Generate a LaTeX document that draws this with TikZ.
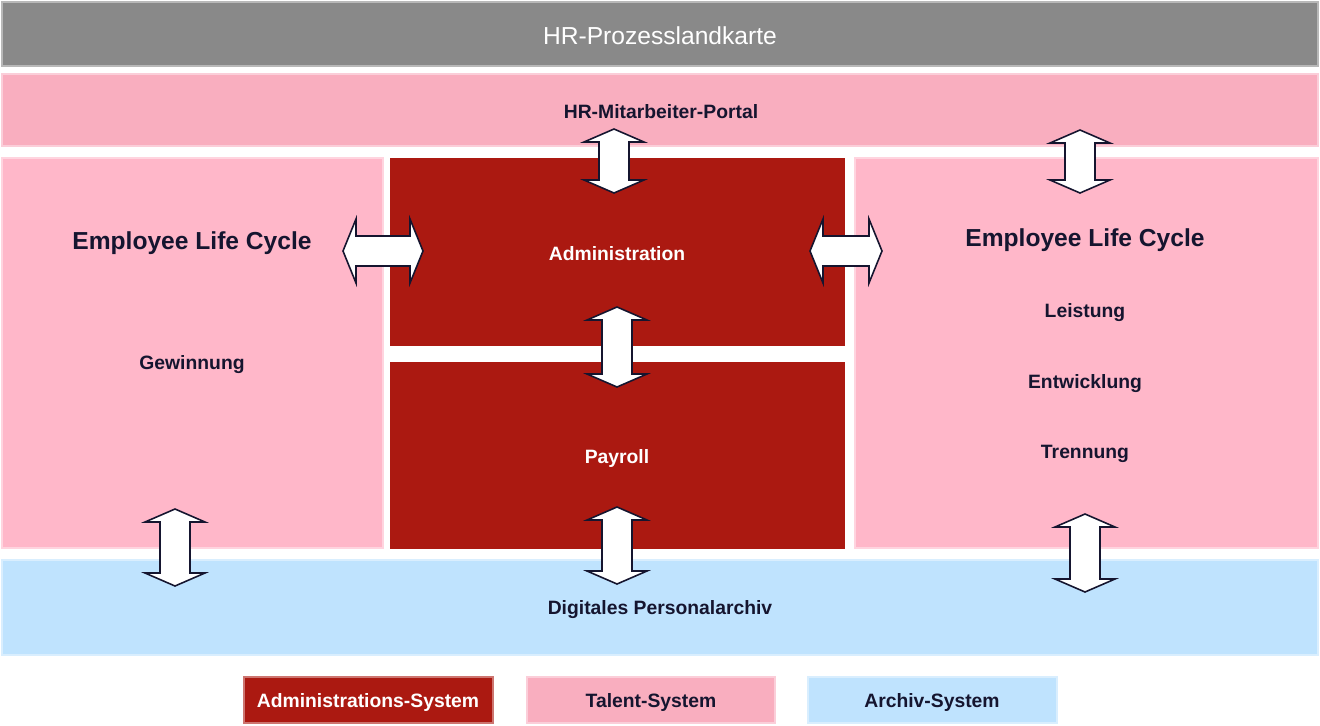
\documentclass[tikz,border=0pt]{standalone}
\usepackage{fontspec}
\setmainfont{Liberation Sans}
\usetikzlibrary{fit}
\definecolor{hrgray}{HTML}{898989}
\definecolor{portal}{HTML}{F9AEBF}
\definecolor{talent}{HTML}{FFB7C9}
\definecolor{adm}{HTML}{AB1911}
\definecolor{archiv}{HTML}{BFE3FE}
\definecolor{ink}{HTML}{15152F}
\tikzset{
  box/.style={inner sep=0pt, outer sep=0pt, line width=0.6pt},
  lbl/.style={font=\bfseries\fontsize{11}{13}\selectfont, text=ink, inner sep=0pt},
  wlbl/.style={font=\bfseries\fontsize{11}{13}\selectfont, text=white, inner sep=0pt},
  biglbl/.style={font=\bfseries\fontsize{14}{17}\selectfont, text=ink, inner sep=0pt},
  arr/.style={draw=ink, fill=white, line width=0.9pt, line join=miter},
}
\newcommand{\varr}[3]{% x, ytop, ybottom
  \draw[arr] (#1,#2) -- (#1+30,#2+13) -- (#1+15,#2+13) -- (#1+15,#3-13) -- (#1+30,#3-13)
    -- (#1,#3) -- (#1-30,#3-13) -- (#1-15,#3-13) -- (#1-15,#2+13) -- (#1-30,#2+13) -- cycle;}
\newcommand{\harr}[3]{% y, xleft, xright
  \draw[arr] (#2,#1) -- (#2+13,#1-32) -- (#2+13,#1-15) -- (#3-13,#1-15) -- (#3-13,#1-32)
    -- (#3,#1) -- (#3-13,#1+32) -- (#3-13,#1+15) -- (#2+13,#1+15) -- (#2+13,#1+32) -- cycle;}
\begin{document}
\begin{tikzpicture}[x=0.02cm, y=-0.02cm]
\useasboundingbox (0,0) rectangle (1320,725);
% boxes
\node[box, fill=hrgray, draw=hrgray!60!white, fit={(2,2)(1318,66)}] (title) {};
\node[font=\fontsize{14}{17}\selectfont, text=white] at (660,36) (titletext) {HR-Prozesslandkarte};
\node[box, fill=portal, draw=portal!60!white, fit={(2,74)(1318,146)}] (portal) {};
\node[lbl] at (661,112) (portaltext) {HR-Mitarbeiter-Portal};
\node[box, fill=talent, draw=talent!60!white, fit={(2,158)(383,548)}] (left) {};
\node[box, fill=adm, fit={(390,158)(845,346)}] (admin) {};
\node[box, fill=adm, fit={(390,362)(845,549)}] (payroll) {};
\node[box, fill=talent, draw=talent!60!white, fit={(855,158)(1318,548)}] (right) {};
\node[box, fill=archiv, draw=archiv!60!white, fit={(2,560)(1318,655)}] (archiv) {};
% texts
\node[biglbl] at (192,243) (elc1) {Employee Life Cycle};
\node[lbl] at (192,365) (gew) {Gewinnung};
\node[wlbl] at (617,254) (admtext) {Administration};
\node[wlbl] at (617,458) (paytext) {Payroll};
\node[biglbl] at (1085,240) (elc2) {Employee Life Cycle};
\node[lbl] at (1085,313) (leist) {Leistung};
\node[lbl] at (1085,384) (entw) {Entwicklung};
\node[lbl] at (1085,454) (trenn) {Trennung};
\node[lbl] at (660,610) (archtext) {Digitales Personalarchiv};
% legend
\node[box, fill=adm, draw=adm!60!white, fit={(244,677)(493,723)}] (lg1) {};
\node[wlbl] at (368,702) (lg1t) {Administrations-System};
\node[box, fill=portal, draw=portal!60!white, fit={(527,677)(775,723)}] (lg2) {};
\node[lbl] at (651,702) (lg2t) {Talent-System};
\node[box, fill=archiv, draw=archiv!60!white, fit={(808,677)(1057,723)}] (lg3) {};
\node[lbl] at (932,702) (lg3t) {Archiv-System};
% arrows
\varr{614}{129}{193}
\varr{1080}{130}{193}
\harr{251}{343}{423}
\harr{251}{810}{882}
\varr{617}{307}{387}
\varr{175}{509}{586}
\varr{617}{507}{584}
\varr{1085}{514}{592}
\end{tikzpicture}
\end{document}
